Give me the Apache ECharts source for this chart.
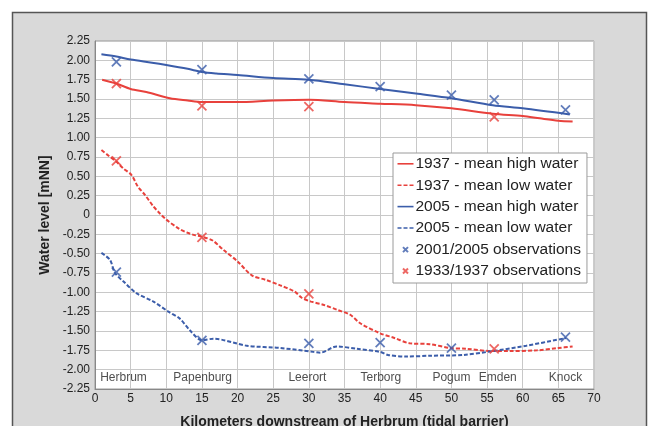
<!DOCTYPE html>
<html>
<head>
<meta charset="utf-8">
<script src="https://cdn.jsdelivr.net/npm/echarts@6/dist/echarts.min.js"></script>
<style>
  html, body { margin: 0; padding: 0; background: #fff; }
  #main { width: 649px; height: 426px; }
</style>
</head>
<body>
<div id="main"></div>
<script>
// Wasserstände Ems, Herbrum bis Knock
var red = '#e8413c';
var blue = '#3b5daa';

// 1937 mittleres Hochwasser [km, m NN]
var mhw1937 = [[1,1.75],[3,1.70],[5,1.63],[7.2,1.59],[10.5,1.51],[13,1.48],[15,1.46],[20,1.46],[25,1.48],[30,1.49],[35,1.46],[40,1.44],[45,1.42],[50,1.38],[55.8,1.31],[60,1.28],[62.4,1.25],[65,1.22],[67,1.21]];
// 1937 mittleres Niedrigwasser
var mnw1937 = [[0.9,0.84],[2,0.76],[3,0.69],[4,0.60],[5.1,0.52],[6,0.37],[7,0.26],[8.2,0.11],[9,0.03],[10,-0.06],[11.5,-0.16],[12,-0.19],[13,-0.23],[14,-0.26],[15,-0.28],[16.5,-0.33],[18,-0.45],[20,-0.60],[22,-0.78],[24,-0.84],[26,-0.91],[28,-0.99],[29,-1.07],[30.3,-1.12],[32,-1.16],[34.1,-1.23],[35.8,-1.29],[37.2,-1.40],[40,-1.53],[42,-1.59],[44.2,-1.66],[47,-1.67],[49.8,-1.72],[52,-1.73],[55.8,-1.76],[58,-1.76],[62,-1.75],[65,-1.72],[67,-1.70]];
// 2005 mittleres Hochwasser
var mhw2005 = [[0.9,2.08],[3,2.05],[5,2.01],[8,1.97],[10,1.94],[13,1.89],[15,1.85],[17,1.83],[20,1.81],[25,1.77],[30,1.75],[35,1.69],[40,1.63],[45,1.57],[50,1.51],[55.8,1.42],[60,1.38],[66.6,1.30]];
// 2005 mittleres Niedrigwasser
var mnw2005 = [[0.9,-0.49],[2.1,-0.58],[2.8,-0.75],[4,-0.86],[5.8,-1.01],[8.2,-1.12],[10.3,-1.25],[11.9,-1.34],[13.3,-1.49],[15,-1.62],[16.6,-1.60],[21.3,-1.69],[26,-1.72],[30.6,-1.77],[31.6,-1.78],[33.9,-1.70],[36.7,-1.73],[40,-1.77],[41.1,-1.81],[43.7,-1.83],[47,-1.82],[51.6,-1.81],[55.8,-1.76],[60.5,-1.69],[66.1,-1.59]];
// Messungen
var obs2005 = [[3,1.98],[15,1.88],[30,1.76],[40,1.66],[50,1.55],[56,1.49],[66,1.36],[3,-0.74],[15,-1.62],[30,-1.66],[40,-1.65],[50,-1.72],[66,-1.58]];
var obs1937 = [[3,1.70],[15,1.41],[30,1.40],[56,1.27],[3,0.70],[15,-0.29],[30,-1.02],[56,-1.73]];
// Orte
var towns = ['Herbrum','Papenburg','Leerort','Terborg','Pogum','Emden','Knock'];
var townKm = [4,15.1,29.8,40.1,50,56.5,66];
var townLevel = -2.1;

var xShape = 'path://M0,0L10,10M10,0L0,10';
// Legendensymbole, alle 16x10
var iconSolid = 'path://M0,0L0,0M0,4L16,4L16,5.6L0,5.6ZM16,10L16,10';
var iconDash = 'path://M0,0L0,0M0,4h4v1.6h-4zM6,4h4v1.6h-4zM12,4h4v1.6h-4zM16,10L16,10';
var iconX = 'path://M0,0L0,0M5.5,2.5L10.5,7.5M10.5,2.5L5.5,7.5M16,10L16,10';

var chart = echarts.init(document.getElementById('main'));

var option = {
    backgroundColor: '#fff',
    animation: false,
    textStyle: { fontFamily: 'Liberation Sans, Arial, sans-serif' },
    graphic: [{
        type: 'rect',
        z: -10,
        shape: { x: 12.5, y: 12.5, width: 634, height: 430 },
        style: { fill: '#d9d9d9', stroke: '#555', lineWidth: 1.5 }
    }],
    grid: { left: 95, right: 55, top: 41, bottom: 37, outerBoundsMode: 'none',
        show: true, backgroundColor: '#fff', borderColor: '#999', borderWidth: 1 },
    legend: {
        left: 393, top: 153,
        orient: 'vertical',
        backgroundColor: '#fff',
        borderColor: '#9a9a9a',
        borderWidth: 1,
        padding: [3, 6, 4, 2],
        itemWidth: 16, itemHeight: 10,
        itemGap: 5.4,
        textStyle: { fontSize: 15.5, lineHeight: 16, color: '#222', padding: [0, 0, 0, -3] },
        data: [
            { name: '1937 - mean high water', icon: iconSolid },
            { name: '1937 - mean low water', icon: iconDash },
            { name: '2005 - mean high water', icon: iconSolid },
            { name: '2005 - mean low water', icon: iconDash },
            { name: '2001/2005 observations', icon: iconX },
            { name: '1933/1937 observations', icon: iconX }
        ]
    },
    xAxis: {
        type: 'value', min: 0, max: 70, interval: 5,
        name: 'Kilometers downstream of Herbrum (tidal barrier)',
        nameLocation: 'middle', nameGap: 26,
        nameTextStyle: { fontSize: 14, fontWeight: 'bold', color: '#222' },
        axisLine: { onZero: false, lineStyle: { color: '#888' } },
        axisTick: { show: false },
        axisLabel: { fontSize: 12, color: '#222', margin: 4 },
        splitLine: { lineStyle: { color: '#c8c8c8' } }
    },
    yAxis: {
        type: 'value', min: -2.25, max: 2.25, interval: 0.25,
        name: 'Water level [mNN]',
        nameLocation: 'middle', nameGap: 40,
        nameTextStyle: { fontSize: 14, fontWeight: 'bold', color: '#222' },
        axisLine: { show: true, lineStyle: { color: '#888' } },
        axisTick: { show: false },
        axisLabel: { fontSize: 12, color: '#222', margin: 5,
            formatter: function (v) { return Math.abs(v) < 1e-9 ? '0' : v.toFixed(2); } },
        splitLine: { lineStyle: { color: '#c8c8c8' } }
    },
    series: [
        { name: '1937 - mean high water', type: 'line', data: mhw1937, symbol: 'none', smooth: 0.3,
          lineStyle: { color: red, width: 2 }, itemStyle: { color: red } },
        { name: '1937 - mean low water', type: 'line', data: mnw1937, symbol: 'none', smooth: 0.3,
          lineStyle: { color: red, width: 2, type: [4, 2] }, itemStyle: { color: red } },
        { name: '2005 - mean high water', type: 'line', data: mhw2005, symbol: 'none', smooth: 0.3,
          lineStyle: { color: blue, width: 2 }, itemStyle: { color: blue } },
        { name: '2005 - mean low water', type: 'line', data: mnw2005, symbol: 'none', smooth: 0.3,
          lineStyle: { color: blue, width: 2, type: [4, 2] }, itemStyle: { color: blue } },
        { name: '2001/2005 observations', type: 'scatter', data: obs2005, symbol: xShape, symbolSize: 9, z: 5,
          itemStyle: { color: 'none', borderColor: blue, borderWidth: 1.8 } },
        { name: '1933/1937 observations', type: 'scatter', data: obs1937, symbol: xShape, symbolSize: 9, z: 5,
          itemStyle: { color: 'none', borderColor: red, borderWidth: 1.8 } },
        { name: 'towns', type: 'scatter', symbolSize: 0, silent: true,
          data: towns.map(function (t, i) { return { name: t, value: [townKm[i], townLevel] }; }),
          label: { show: true, position: 'inside', formatter: '{b}', fontSize: 12, color: '#222' } }
    ]
};

chart.setOption(option);
</script>
</body>
</html>
